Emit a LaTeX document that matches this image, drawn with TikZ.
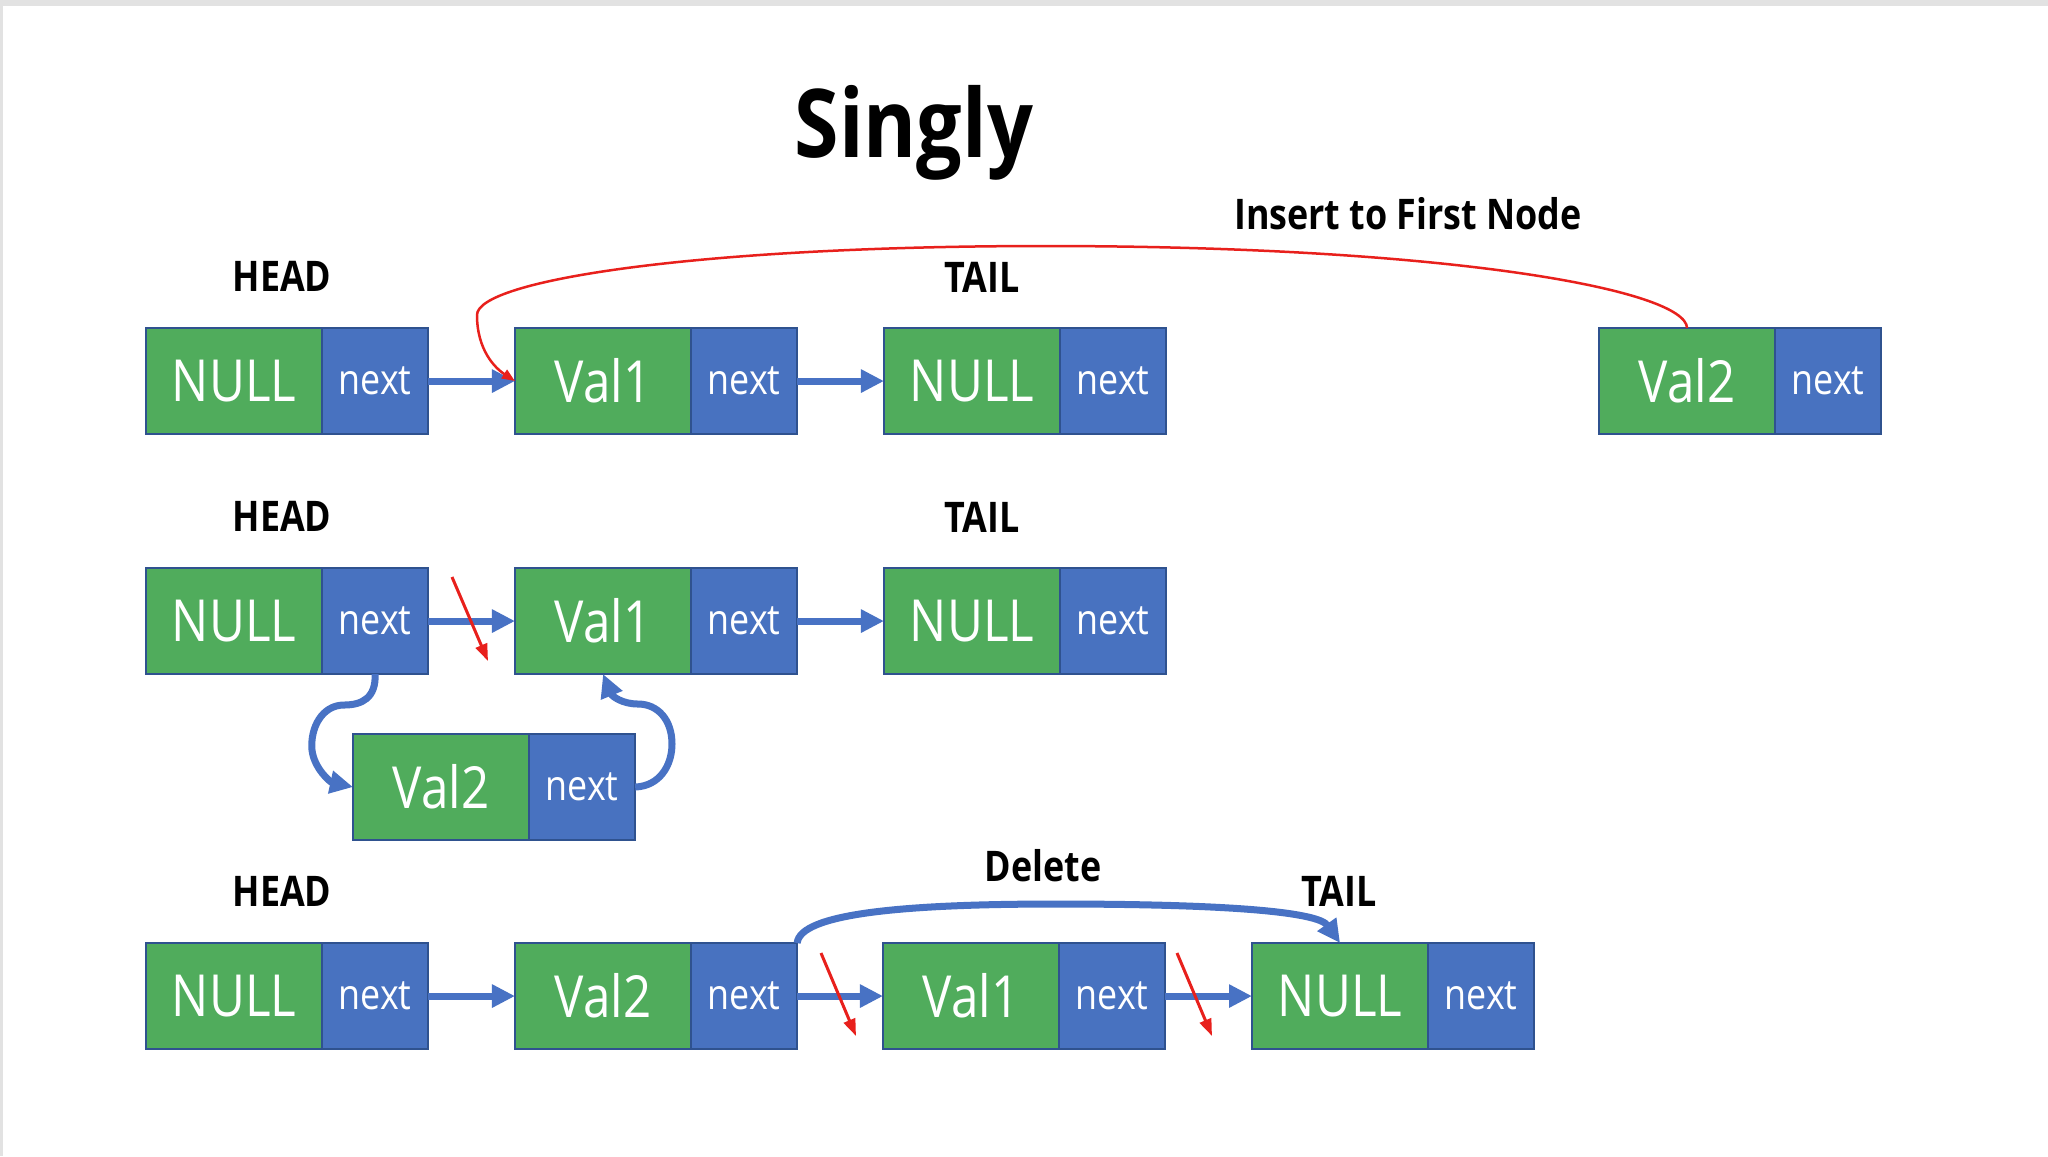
\documentclass[tikz,border=0pt]{standalone}
\usepackage{fontspec}
\setmainfont{Open Sans}[FakeStretch=0.85]
\usepackage{tikz}
\usetikzlibrary{arrows.meta, positioning}
\definecolor{CellGreen}{RGB}{80,172,92}
\definecolor{CellBlue}{RGB}{72,114,192}
\definecolor{CellEdge}{RGB}{47,82,143}
\definecolor{LinkBlue}{RGB}{72,114,196}
\definecolor{MarkRed}{RGB}{232,32,28}
\definecolor{FrameGray}{RGB}{226,226,226}

\begin{document}
\begin{tikzpicture}[x=0.01cm, y=-0.01cm,
  valcell/.style={draw=CellEdge, line width=0.025cm, fill=CellGreen, text=white,
    minimum width=1.76cm, minimum height=1.06cm, inner sep=0pt, outer sep=0pt,
    anchor=north west, font=\fontsize{16.5}{19}\selectfont},
  nextcell/.style={draw=CellEdge, line width=0.025cm, fill=CellBlue, text=white,
    minimum width=1.06cm, minimum height=1.06cm, inner sep=0pt, outer sep=0pt,
    font=\fontsize{12}{14}\selectfont},
  tag/.style={font=\bfseries\fontsize{12}{14}\selectfont},
  link/.style={LinkBlue, line width=0.07cm, -{Triangle[length=0.23cm, width=0.22cm]}},
  cut/.style={MarkRed, line width=0.03cm, -{Triangle[length=0.17cm, width=0.12cm]}}]
  \useasboundingbox (0,0) rectangle (2048,1156);
  \fill[white] (0,0) rectangle (2048,1156);
  \fill[FrameGray] (0,0) rectangle (2048,6);
  \fill[FrameGray] (0,0) rectangle (3,1156);

  \node[font=\bfseries\fontsize{27}{32}\selectfont] (title) at (914,133) {Singly};

  \node[tag] (head1) at (282,276) {HEAD};
  \node[tag] (tail1) at (982,277) {TAIL};
  \node[tag] (insert) at (1408,214) {Insert to First Node};
  \node[valcell] (r1a) at (146,328) {NULL};
  \node[nextcell, right=0pt of r1a] (r1an) {next};
  \node[valcell] (r1b) at (515,328) {Val1};
  \node[nextcell, right=0pt of r1b] (r1bn) {next};
  \node[valcell] (r1c) at (884,328) {NULL};
  \node[nextcell, right=0pt of r1c] (r1cn) {next};
  \node[valcell] (r1d) at (1599,328) {Val2};
  \node[nextcell, right=0pt of r1d] (r1dn) {next};
  \draw[link] (r1an.east) -- (r1b.west);
  \draw[link] (r1bn.east) -- (r1c.west);
  \draw[MarkRed, line width=0.025cm, -{Triangle[length=0.13cm, width=0.1cm]}]
    (r1d.north) .. controls (1686,290) and (1450,246) .. (1045,246)
    .. controls (700,246) and (477,280) .. (477,315)
    .. controls (477,350) and (495,368) .. (r1b.west);

  \node[tag] (head2) at (282,516) {HEAD};
  \node[tag] (tail2) at (982,517) {TAIL};
  \node[valcell] (r2a) at (146,568) {NULL};
  \node[nextcell, right=0pt of r2a] (r2an) {next};
  \node[valcell] (r2b) at (515,568) {Val1};
  \node[nextcell, right=0pt of r2b] (r2bn) {next};
  \node[valcell] (r2c) at (884,568) {NULL};
  \node[nextcell, right=0pt of r2c] (r2cn) {next};
  \node[valcell] (r2d) at (353,734) {Val2};
  \node[nextcell, right=0pt of r2d] (r2dn) {next};
  \draw[link] (r2an.east) -- (r2b.west);
  \draw[link] (r2bn.east) -- (r2c.west);
  \draw[link] (r2an.south) .. controls (376,698) and (362,705) .. (344,705)
    .. controls (322,705) and (310,728) .. (312,750)
    .. controls (314,768) and (330,782) .. (r2d.west);
  \draw[link] (r2dn.east) .. controls (660,786) and (672,765) .. (672,744)
    .. controls (672,720) and (658,704) .. (638,704)
    .. controls (622,704) and (612,696) .. (r2b.south);
  \coordinate (c2s) at (452,577);
  \coordinate (c2e) at (488,661);
  \draw[cut] (c2s) -- (c2e);

  \node[tag] (head3) at (282,891) {HEAD};
  \node[tag] (tail3) at (1339,891) {TAIL};
  \node[tag] (delete) at (1043,866) {Delete};
  \node[valcell] (r3a) at (146,943) {NULL};
  \node[nextcell, right=0pt of r3a] (r3an) {next};
  \node[valcell] (r3b) at (515,943) {Val2};
  \node[nextcell, right=0pt of r3b] (r3bn) {next};
  \node[valcell] (r3c) at (883,943) {Val1};
  \node[nextcell, right=0pt of r3c] (r3cn) {next};
  \node[valcell] (r3d) at (1252,943) {NULL};
  \node[nextcell, right=0pt of r3d] (r3dn) {next};
  \draw[link] (r3an.east) -- (r3b.west);
  \draw[link] (r3bn.east) -- (r3c.west);
  \draw[link] (r3cn.east) -- (r3d.west);
  \draw[link] (r3bn.north east) .. controls (800,914) and (900,904) .. (1056,904)
    .. controls (1230,904) and (1318,912) .. (r3d.north);
  \coordinate (c3s) at (821,953);
  \coordinate (c3e) at (856,1036);
  \coordinate (c4s) at (1177,953);
  \coordinate (c4e) at (1212,1036);
  \draw[cut] (c3s) -- (c3e);
  \draw[cut] (c4s) -- (c4e);
\end{tikzpicture}
\end{document}
